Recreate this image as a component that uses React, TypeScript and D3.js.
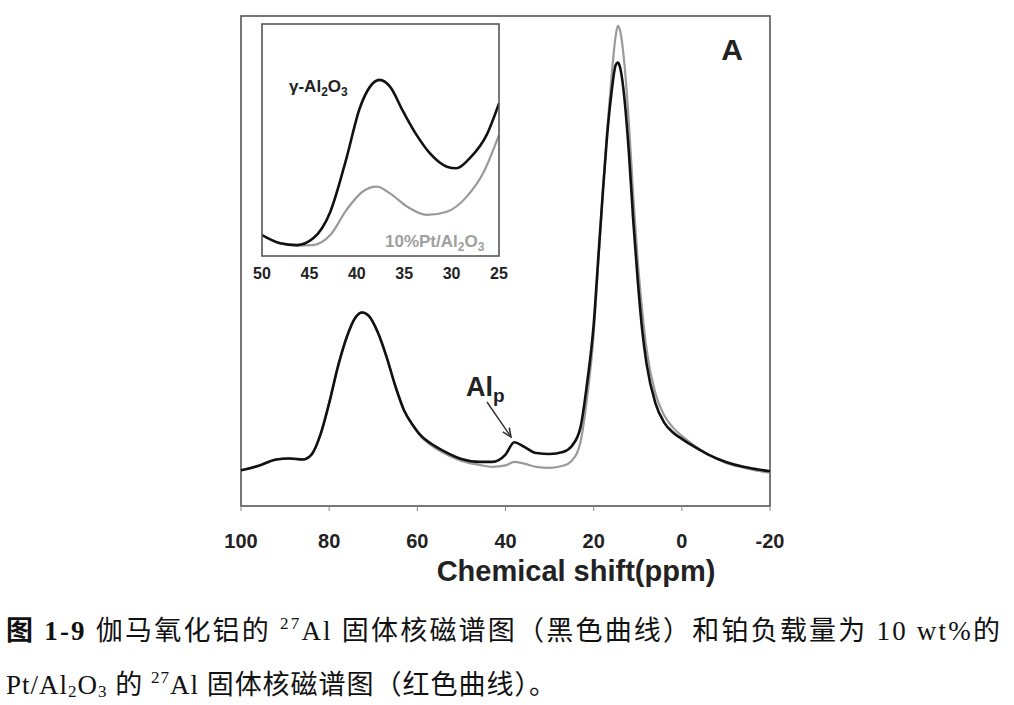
import React from 'react';
import * as d3 from 'd3';

// main spectrum (ppm, descending)
const ppm = [100, 96, 92, 89, 86, 84, 82, 80, 78, 76, 74, 72.5, 71, 69, 67, 65, 63, 61, 59, 57, 54, 50, 46, 43, 40, 38, 36, 33, 30, 27, 25, 23, 21.5, 20, 19, 18, 17, 16, 15, 14.5, 14, 13, 12, 11, 10, 9, 8, 6, 4, 2, 0, -3, -6, -10, -14, -17, -20];
const gammaAl2O3 = [7.3, 8.2, 9.5, 9.7, 9.5, 10.5, 14.5, 21, 28.5, 34.5, 38.5, 39.5, 38.8, 35.5, 30.5, 24.5, 19.5, 16.5, 14.2, 12.8, 11.2, 9.6, 9.0, 9.0, 10.5, 13.0, 12.2, 10.8, 10.6, 11.0, 12.2, 16, 25, 37, 50, 63, 75, 84, 90, 90.5, 89.5, 83, 72, 58, 46, 36, 29, 21, 17, 15, 13.7, 12, 10.5, 9, 8, 7.5, 7.1];
const ptAl2O3 = [7.3, 8.2, 9.5, 9.7, 9.5, 10.5, 14.5, 21, 28.5, 34.5, 38.5, 39.5, 38.8, 35.5, 30.5, 24.5, 19.5, 16.4, 14.0, 12.5, 10.8, 9.2, 8.4, 8.0, 8.3, 9.0, 8.7, 8.0, 7.8, 8.2, 9.2, 13, 22, 35, 49, 63, 76, 87, 96, 98, 97, 90, 78, 63, 50, 40, 32, 23, 18.5, 16, 14.3, 12.2, 10.5, 8.8, 7.8, 7.2, 6.8];
const xTicks = [100, 80, 60, 40, 20, 0, -20];

// inset (zoom of 50-25 ppm)
const insetPpmBlack = [50, 48.1, 46.3, 44.6, 42.8, 41.1, 39.7, 38.6, 37.6, 36.5, 35.1, 33.7, 32.3, 30.5, 29.5, 28.1, 26.3, 25];
const insetBlack = [9, 5.5, 4.7, 7.6, 19, 42, 63.6, 73, 75.9, 73, 62.2, 52.2, 44.3, 38.5, 37.8, 42.1, 52.2, 65.8];
const insetPpmGray = [50, 48, 46.3, 44.6, 42.8, 41.1, 39.4, 37.9, 36.5, 34.7, 32.6, 30.5, 28.4, 26.6, 25];
const insetGray = [9, 5.5, 4.5, 4.7, 9, 19.8, 27.7, 29.9, 27, 21.3, 17.7, 19.1, 25.6, 36.3, 52.2];
const insetTicks = [50, 45, 40, 35, 30, 25];

const sans = "Arial, 'Liberation Sans', sans-serif";
const serif = "'Liberation Serif', 'Times New Roman', 'Noto Sans CJK SC', serif";
const cjkBold = "'Noto Sans CJK SC', sans-serif";

export default function App() {
  const x = d3.scaleLinear().domain([100, -20]).range([241, 770]);
  const y = d3.scaleLinear().domain([0, 100]).range([506, 16]);
  const xi = d3.scaleLinear().domain([50, 25]).range([262, 499]);
  const yi = d3.scaleLinear().domain([0, 100]).range([256, 24]);

  const mainLine = d3.line<number>()
    .x((d, i) => x(ppm[i]))
    .y(d => y(d))
    .curve(d3.curveMonotoneX);

  const insetLine = (xs: number[]) => d3.line<number>()
    .x((d, i) => xi(xs[i]))
    .y(d => yi(d))
    .curve(d3.curveMonotoneX);

  return (
    <svg width={1014} height={705} style={{ position: 'absolute', left: 0, top: 0, background: '#fff' }}>
      <defs>
        <marker id="arr" viewBox="0 0 10 10" refX="9" refY="5" markerWidth="7" markerHeight="7" orient="auto">
          <path d="M0,1 L9,5 L0,9" fill="none" stroke="#333" strokeWidth={1.6} />
        </marker>
        <clipPath id="insetClip"><rect x={262} y={24} width={237} height={232} /></clipPath>
      </defs>

      {/* main frame */}
      <rect x={241} y={16} width={529} height={490} fill="none" stroke="#555" strokeWidth={1.6} />
      {xTicks.map(t => (
        <g key={t}>
          <line x1={x(t)} x2={x(t)} y1={506} y2={511} stroke="#888" strokeWidth={1} />
          <text x={x(t)} y={548} textAnchor="middle" fontFamily={sans} fontWeight="bold" fontSize={20} fill="#222">{t}</text>
        </g>
      ))}
      <text x={576} y={581} textAnchor="middle" fontFamily={sans} fontWeight="bold" fontSize={29} fill="#222">Chemical shift(ppm)</text>

      {/* main curves */}
      <path d={mainLine(ptAl2O3) || ''} fill="none" stroke="#9a9a9a" strokeWidth={2.2} />
      <path d={mainLine(gammaAl2O3) || ''} fill="none" stroke="#111" strokeWidth={2.6} />

      <text x={732} y={60} textAnchor="middle" fontFamily={sans} fontWeight="bold" fontSize={30} fill="#222">A</text>

      {/* Al_p annotation */}
      <text x={466} y={396} fontFamily={sans} fontWeight="bold" fontSize={27} fill="#222">Al<tspan fontSize={19} dy={6}>p</tspan></text>
      <line x1={487} y1={402} x2={511} y2={437} stroke="#333" strokeWidth={1.4} markerEnd="url(#arr)" />

      {/* inset */}
      <rect x={262} y={24} width={237} height={232} fill="#fff" />
      <g clipPath="url(#insetClip)">
        <path d={insetLine(insetPpmGray)(insetGray) || ''} fill="none" stroke="#9a9a9a" strokeWidth={2.2} />
        <path d={insetLine(insetPpmBlack)(insetBlack) || ''} fill="none" stroke="#111" strokeWidth={2.6} />
        <text x={385} y={247} fontFamily={sans} fontWeight="bold" fontSize={17} fill="#a0a0a0">10%Pt/Al<tspan fontSize={12} dy={4}>2</tspan><tspan dy={-4}>O</tspan><tspan fontSize={12} dy={4}>3</tspan></text>
      </g>
      <rect x={262} y={24} width={237} height={232} fill="none" stroke="#555" strokeWidth={1.6} />
      <text x={289} y={92} fontFamily={sans} fontWeight="bold" fontSize={17} fill="#222">γ-Al<tspan fontSize={12} dy={4}>2</tspan><tspan dy={-4}>O</tspan><tspan fontSize={12} dy={4}>3</tspan></text>
      {insetTicks.map(t => (
        <text key={t} x={xi(t)} y={279} textAnchor="middle" fontFamily={sans} fontWeight="bold" fontSize={16} fill="#222">{t}</text>
      ))}

      {/* caption */}
      <text x={6} y={640} fontFamily={serif} fontSize={27} fill="#111" textLength={994} lengthAdjust="spacing">
        <tspan fontFamily={cjkBold} fontWeight="bold">图</tspan>
        <tspan fontWeight="bold"> 1-9 </tspan>
        <tspan>伽马氧化铝的 </tspan>
        <tspan fontSize={17} dy={-11}>27</tspan>
        <tspan dy={11}>Al 固体核磁谱图（黑色曲线）和铂负载量为 10 wt%的</tspan>
      </text>
      <text x={6} y={694} fontFamily={serif} fontSize={27} fill="#111" textLength={550} lengthAdjust="spacing">
        <tspan>Pt/Al</tspan>
        <tspan fontSize={17} dy={3}>2</tspan>
        <tspan dy={-3}>O</tspan>
        <tspan fontSize={17} dy={3}>3</tspan>
        <tspan dy={-3}> 的 </tspan>
        <tspan fontSize={17} dy={-11}>27</tspan>
        <tspan dy={11}>Al 固体核磁谱图（红色曲线）。</tspan>
      </text>
    </svg>
  );
}
